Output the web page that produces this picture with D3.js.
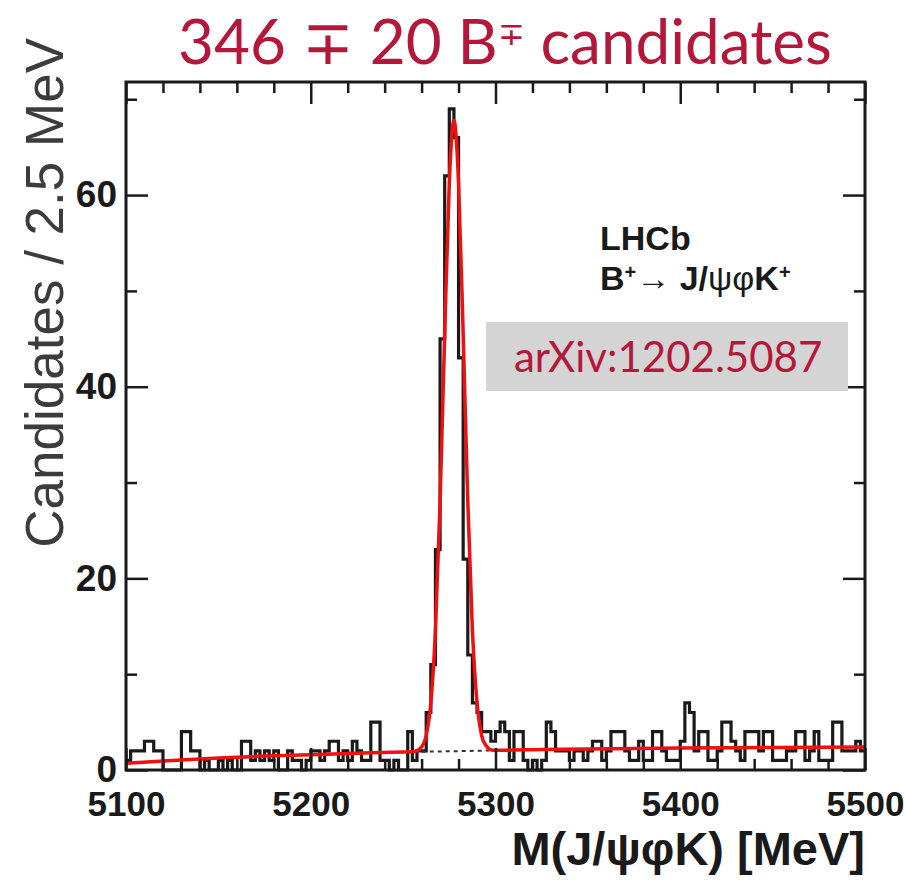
<!DOCTYPE html>
<html>
<head>
<meta charset="utf-8">
<script src="https://cdn.jsdelivr.net/npm/d3@7"></script>
<style>
  body { margin: 0; background: #fff; }
  svg { display: block; }
</style>
</head>
<body>
<svg id="chart" width="905" height="881"></svg>
<script>
// candidates per 2.5 MeV bin, 5100 -> 5500 MeV (160 bins)
const counts = [
    1, 2, 2, 2, 3, 3, 2, 2, 0, 0,
    0, 0, 4, 4, 2, 2, 0, 1, 0, 0,
    1, 0, 1, 0, 0, 3, 3, 1, 2, 1,
    2, 1, 2, 0, 0, 2, 1, 1, 0, 1,
    2, 2, 1, 2, 3, 3, 1, 2, 1, 3,
    2, 1, 1, 5, 5, 1, 1, 0, 1, 0,
    0, 4, 1, 2, 2, 6, 11, 23, 45, 62,
    69, 66, 43, 22, 12, 7, 6, 4, 4, 3,
    4, 5, 4, 1, 4, 4, 1, 0, 1, 0,
    1, 5, 4, 2, 2, 2, 1, 2, 2, 1,
    2, 3, 3, 1, 2, 4, 4, 4, 2, 1,
    1, 3, 1, 1, 4, 4, 2, 1, 1, 1,
    3, 7, 6, 2, 4, 4, 1, 1, 2, 5,
    5, 3, 2, 1, 4, 4, 4, 2, 4, 4,
    1, 1, 1, 2, 2, 4, 4, 1, 2, 4,
    1, 1, 1, 5, 5, 2, 2, 2, 3, 2
];
const binStart = 5100;
const binWidth = 2.5;

// total fit (red)
const fitMass  = [5100, 5125, 5150, 5175, 5200, 5225, 5250, 5255, 5257.5, 5260, 5262.5, 5265, 5267.5, 5270, 5272.5, 5275, 5277.5, 5280, 5282.5, 5285, 5287.5, 5290, 5292.5, 5295, 5297.5, 5300, 5325, 5350, 5400, 5450, 5500];
const fitValue = [0.7, 1.0, 1.25, 1.45, 1.6, 1.75, 1.88, 1.9, 2.0, 2.4, 3.6, 7, 14.6, 28, 45.5, 61.3, 67.8, 61.3, 45.5, 28, 14.6, 7, 3.6, 2.5, 2.1, 2.05, 2.15, 2.2, 2.3, 2.35, 2.4];

// background component (dotted)
const bkgMass  = [5100, 5125, 5150, 5175, 5200, 5225, 5250, 5275, 5300, 5325, 5350, 5400, 5450, 5500];
const bkgValue = [0.7, 1.0, 1.25, 1.45, 1.6, 1.75, 1.88, 1.95, 2.05, 2.15, 2.2, 2.3, 2.35, 2.4];

const xMajorTicks = [5100, 5200, 5300, 5400, 5500];
const xMinorTicks = [5120, 5140, 5160, 5180, 5220, 5240, 5260, 5280, 5320, 5340, 5360, 5380, 5420, 5440, 5460, 5480];
const yMajorTicks = [0, 20, 40, 60];
const yMinorTicks = [10, 30, 50, 70];

const crimson = "#b5173b";
const ink = "#1a1a1a";

const margin = {top: 82, right: 40, bottom: 111, left: 126};
const width = 905, height = 881;
const plotW = width - margin.left - margin.right;
const plotH = height - margin.top - margin.bottom;

const svg = d3.select("#chart");

const x = d3.scaleLinear().domain([5100, 5500]).range([0, plotW]);
const y = d3.scaleLinear().domain([0, 71.8]).range([plotH, 0]);

const g = svg.append("g").attr("transform", `translate(${margin.left},${margin.top})`);

// histogram as a step outline
const histPoints = counts.map((c, i) => [binStart + i * binWidth, c]);
histPoints.push([binStart + counts.length * binWidth, counts[counts.length - 1]]);
const stepLine = d3.line()
    .x(d => x(d[0]))
    .y(d => y(d[1]))
    .curve(d3.curveStepAfter);

g.append("path")
    .datum(histPoints)
    .attr("d", stepLine)
    .attr("fill", "none")
    .attr("stroke", ink)
    .attr("stroke-width", 3.2);

// background dotted
const bkgLine = d3.line()
    .x((d, i) => x(bkgMass[i]))
    .y(d => y(d))
    .curve(d3.curveMonotoneX);
g.append("path")
    .datum(bkgValue)
    .attr("d", bkgLine)
    .attr("fill", "none")
    .attr("stroke", "#333")
    .attr("stroke-width", 2)
    .attr("stroke-dasharray", "4,4");

// fit curve
const fitLine = d3.line()
    .x((d, i) => x(fitMass[i]))
    .y(d => y(d))
    .curve(d3.curveMonotoneX);
g.append("path")
    .datum(fitValue)
    .attr("d", fitLine)
    .attr("fill", "none")
    .attr("stroke", "#f01010")
    .attr("stroke-width", 3.5);

// axes: ticks pointing inward, on all four sides
function styleAxis(sel) {
    sel.select(".domain").remove();
    sel.selectAll(".tick line").attr("stroke", ink).attr("stroke-width", 2.5);
    sel.selectAll(".tick text")
        .attr("fill", ink)
        .style("font-family", "'Liberation Sans', Arial, sans-serif")
        .style("font-weight", "bold")
        .style("font-size", "35px");
}

g.append("g")
    .attr("transform", `translate(0,${plotH})`)
    .call(d3.axisBottom(x).tickValues(xMajorTicks).tickSize(-22).tickPadding(21).tickFormat(d3.format("d")))
    .call(styleAxis);
g.append("g")
    .attr("transform", `translate(0,${plotH})`)
    .call(d3.axisBottom(x).tickValues(xMinorTicks).tickSize(-11).tickFormat(""))
    .call(styleAxis);
g.append("g")
    .call(d3.axisTop(x).tickValues(xMajorTicks).tickSize(-22).tickFormat(""))
    .call(styleAxis);
g.append("g")
    .call(d3.axisTop(x).tickValues(xMinorTicks).tickSize(-11).tickFormat(""))
    .call(styleAxis);

g.append("g")
    .call(d3.axisLeft(y).tickValues(yMajorTicks).tickSize(-22).tickPadding(9))
    .call(styleAxis)
    .call(s => s.selectAll(".tick text").style("font-size", "37px"));
g.append("g")
    .call(d3.axisLeft(y).tickValues(yMinorTicks).tickSize(-11).tickFormat(""))
    .call(styleAxis);
g.append("g")
    .attr("transform", `translate(${plotW},0)`)
    .call(d3.axisRight(y).tickValues(yMajorTicks).tickSize(-22).tickFormat(""))
    .call(styleAxis);
g.append("g")
    .attr("transform", `translate(${plotW},0)`)
    .call(d3.axisRight(y).tickValues(yMinorTicks).tickSize(-11).tickFormat(""))
    .call(styleAxis);

// frame
g.append("rect")
    .attr("width", plotW)
    .attr("height", plotH)
    .attr("fill", "none")
    .attr("stroke", ink)
    .attr("stroke-width", 3);

// axis titles
svg.append("text")
    .attr("x", margin.left + plotW)
    .attr("y", 865)
    .attr("text-anchor", "end")
    .attr("fill", ink)
    .style("font-family", "'Liberation Sans', Arial, sans-serif")
    .style("font-weight", "bold")
    .style("font-size", "47px")
    .text("M(J/ψφK) [MeV]");

svg.append("text")
    .attr("transform", "translate(63,38) rotate(-90)")
    .attr("text-anchor", "end")
    .attr("fill", "#3c3c3c")
    .style("font-family", "'Liberation Sans', Arial, sans-serif")
    .style("font-size", "53px")
    .text("Candidates / 2.5 MeV");

// title
const title = svg.append("text")
    .attr("x", 505)
    .attr("y", 64)
    .attr("text-anchor", "middle")
    .attr("fill", crimson)
    .style("font-family", "Lato, 'Open Sans', sans-serif")
    .style("font-size", "62px");
title.append("tspan").text("346 ∓ 20 B");
title.append("tspan").attr("baseline-shift", "super").style("font-size", "32px").text("∓");
title.append("tspan").text(" candidates");

// LHCb labels
const lab = svg.append("g")
    .attr("fill", ink)
    .style("font-family", "'Liberation Sans', Arial, sans-serif")
    .style("font-weight", "bold")
    .style("font-size", "34px");
lab.append("text").attr("x", 600).attr("y", 250).text("LHCb");
const decay = lab.append("text").attr("x", 600).attr("y", 290);
decay.append("tspan").text("B");
decay.append("tspan").attr("baseline-shift", "super").style("font-size", "20px").text("+");
decay.append("tspan").text("→ J/");
decay.append("tspan").style("font-weight", "normal").text("ψφ");
decay.append("tspan").text("K");
decay.append("tspan").attr("baseline-shift", "super").style("font-size", "20px").text("+");

// arXiv box
svg.append("rect")
    .attr("x", 486)
    .attr("y", 322)
    .attr("width", 362)
    .attr("height", 69)
    .attr("fill", "#d4d4d4");
svg.append("text")
    .attr("x", 514)
    .attr("y", 372)
    .attr("fill", crimson)
    .style("font-family", "Lato, 'Open Sans', sans-serif")
    .style("font-size", "42px")
    .text("arXiv:1202.5087");
</script>
</body>
</html>
